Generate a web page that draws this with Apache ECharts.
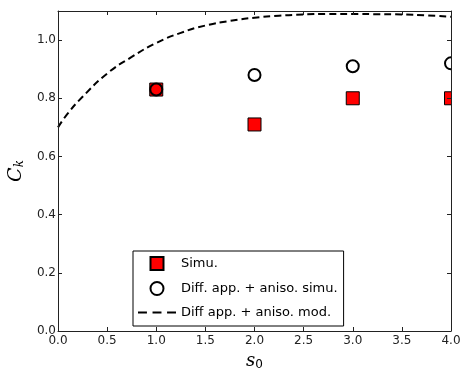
<!DOCTYPE html>
<html><head><meta charset="utf-8">
<script src="https://cdn.jsdelivr.net/npm/echarts@6/dist/echarts.min.js"></script>
<style>html,body{margin:0;padding:0;background:#fff}#c{width:460px;height:371px}</style>
</head><body><div id="c"></div>
<script>
const s0Points = [1, 2, 3, 4];
const simu = [0.83, 0.71, 0.80, 0.80];
const diffSimu = [0.83, 0.88, 0.91, 0.92];
const modS0 = [0, 0.1, 0.25, 0.5, 0.75, 1.0, 1.25, 1.5, 1.75, 2.0, 2.25, 2.5, 2.75, 3.0, 3.25, 3.5, 3.75, 4.0];
const modCk = [0.700, 0.748, 0.805, 0.885, 0.942, 0.990, 1.025, 1.050, 1.066, 1.077, 1.084, 1.088, 1.090, 1.090, 1.089, 1.088, 1.085, 1.080];
const xTicks = [0, 0.5, 1, 1.5, 2, 2.5, 3, 3.5, 4];
const yTicks = [0, 0.2, 0.4, 0.6, 0.8, 1.0];
const names = ['Simu.', 'Diff. app. + aniso. simu.', 'Diff app. + aniso. mod.'];

const font = 'DejaVu Sans';
const axCol = '#222';
const chart = echarts.init(document.getElementById('c'));
const baseX = {type:'value', min:0, max:4, interval:0.5, z:10,
  axisLine:{show:true, onZero:false, lineStyle:{color:axCol, width:1}},
  axisTick:{show:true, inside:true, length:4, lineStyle:{color:axCol}},
  splitLine:{show:false}};
const baseY = {type:'value', min:0, max:1.1, interval:0.2, z:10,
  axisLine:{show:true, onZero:false, lineStyle:{color:axCol, width:1}},
  axisTick:{show:true, inside:true, length:4, lineStyle:{color:axCol}},
  splitLine:{show:false}};
chart.setOption({
  animation:false,
  backgroundColor:'#fff',
  grid:{left:58, right:9, top:11, bottom:40, containLabel:false, outerBoundsMode:'none'},
  xAxis:[
    Object.assign({}, baseX, {position:'bottom',
      axisLabel:{show:true, fontFamily:font, fontSize:12, color:'#222', margin:4,
        formatter:v => xTicks.some(t=>Math.abs(t-v)<1e-9) ? v.toFixed(1) : ''},
      name:'{i|s}{sub|0}', nameLocation:'middle', nameGap:20,
      nameTextStyle:{rich:{i:{fontFamily:'DejaVu Serif', fontStyle:'italic', fontSize:18, color:'#000'},
        sub:{fontFamily:'DejaVu Sans', fontSize:12, color:'#000', verticalAlign:'bottom', padding:[8,0,0,0]}}}}),
    Object.assign({}, baseX, {position:'top', axisLabel:{show:false}})
  ],
  yAxis:[
    Object.assign({}, baseY, {position:'left',
      axisLabel:{show:true, fontFamily:font, fontSize:12, color:'#222', margin:2,
        showMaxLabel:false,
        formatter:v => yTicks.some(t=>Math.abs(t-v)<1e-9) ? v.toFixed(1) : ''},
      name:'{i|C}{sub|k}', nameLocation:'middle', nameGap:21, nameRotate:90,
      nameTextStyle:{rich:{i:{fontFamily:'DejaVu Serif', fontStyle:'italic', fontSize:19, color:'#000'},
        sub:{fontFamily:'DejaVu Serif', fontStyle:'italic', fontSize:12, color:'#000', verticalAlign:'bottom', padding:[8,0,0,0]}}}}),
    Object.assign({}, baseY, {position:'right', axisLabel:{show:false}})
  ],
  legend:{
    orient:'vertical', left:133, top:251, padding:[5,6,7,5], itemGap:10,
    itemWidth:38, itemHeight:13, backgroundColor:'#fff', symbolKeepAspect:true,
    borderColor:'#000', borderWidth:1, borderRadius:0,
    textStyle:{fontFamily:font, fontSize:13, color:'#000'},
    data:[
      {name:names[0], icon:'path://M0,0L10,0L10,10L0,10Z'},
      {name:names[1]},
      {name:names[2], icon:'path://M0,0h8v2h-8zM13,0h8v2h-8zM26,0h8v2h-8z', itemStyle:{color:'#000', borderWidth:0}}
    ]
  },
  graphic:[{type:'rect', shape:{x:452, y:0, width:8, height:331}, style:{fill:'#fff'}, z:50, silent:true}],
  series:[
    {name:names[2], type:'line', smooth:true, showSymbol:false, symbol:'none', clip:true,
      data:modS0.map((x,i)=>[x, modCk[i]]),
      lineStyle:{color:'#000', width:2, type:[7,4]}, itemStyle:{color:'#000'}, z:2},
    {name:names[0], type:'scatter', symbol:'rect', symbolSize:13, clip:true,
      data:s0Points.map((x,i)=>[x, simu[i]]),
      itemStyle:{color:'#ff0000', borderColor:'#000', borderWidth:1, opacity:1}, z:3},
    {name:names[1], type:'scatter', symbol:'circle', symbolSize:12, clip:true,
      data:s0Points.map((x,i)=>[x, diffSimu[i]]),
      itemStyle:{color:'rgba(0,0,0,0)', borderColor:'#000', borderWidth:2, opacity:1}, z:4}
  ]
});
</script></body></html>
